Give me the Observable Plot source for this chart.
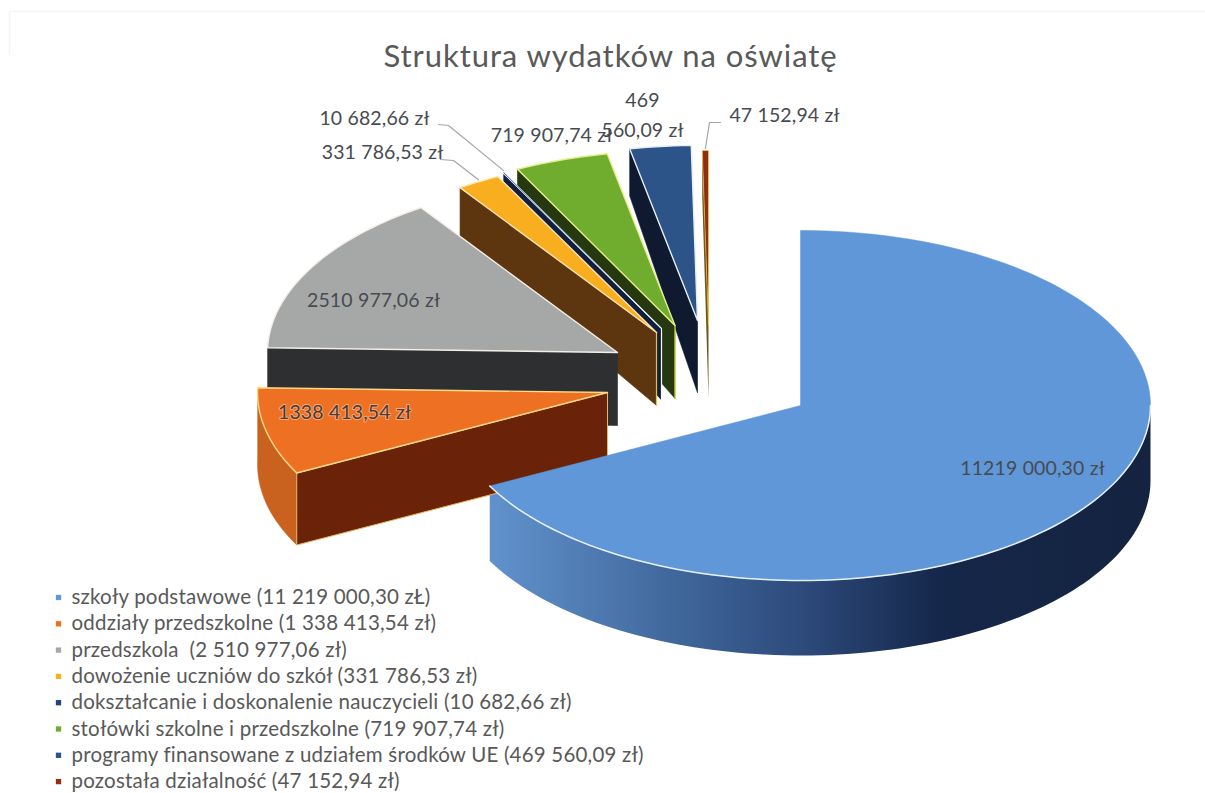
<!DOCTYPE html>
<html lang="pl">
<head>
<meta charset="utf-8">
<script src="https://cdn.jsdelivr.net/npm/d3@7"></script>
<script src="https://cdn.jsdelivr.net/npm/@observablehq/plot@0.6"></script>
<style>
html,body{margin:0;padding:0;background:#fff}
svg{display:block}
</style>
</head>
<body>
<div id="chart"></div>
<script>
// ---- data ----
const title = "Struktura wydatków na oświatę";
const categories = ["szkoły podstawowe","oddziały przedszkolne","przedszkola","dowożenie uczniów do szkół","dokształcanie i doskonalenie nauczycieli","stołówki szkolne i przedszkolne","programy finansowane z udziałem środków UE","pozostała działalność"];
const values = [11219000.30,1338413.54,2510977.06,331786.53,10682.66,719907.74,469560.09,47152.94];
const dataLabels = ["11219 000,30 zł","1338 413,54 zł","2510 977,06 zł","331 786,53 zł","10 682,66 zł","719 907,74 zł","469\n560,09 zł","47 152,94 zł"];
const legendLabels = ["szkoły podstawowe (11 219 000,30 zŁ)","oddziały przedszkolne (1 338 413,54 zł)","przedszkola  (2 510 977,06 zł)","dowożenie uczniów do szkół (331 786,53 zł)","dokształcanie i doskonalenie nauczycieli (10 682,66 zł)","stołówki szkolne i przedszkolne (719 907,74 zł)","programy finansowane z udziałem środków UE (469 560,09 zł)","pozostała działalność (47 152,94 zł)"];

// ---- styles ----
const topColors  = ["#5f97d8","#ee7023","#a6a8a8","#f8ae1f","#21427f","#70ad2e","#2d5488","#8f2e12"];
const wallColors = [null,"#6a2209","#2e2f30","#5d3610","#101f3f","#25380f","#0f1a31","#6b5a20"];
const edgeColors = ["#e8f1fb","#ffd98a","#f3eee6","#ffe3b0","#ffffff","#e6ee8a","#e6eef8","#ffd23a"];
const wallEdgeColors = [null,"#e8b860","#2e2f30","#5d3610","#ffffff","#25380f","#0f1a31",null];
const rightEdgeColors = [null,null,null,"#e8c23a",null,"#e0e040",null,null];
const arcWallOrange = "#c9621f";
const blueRamp = [[0,"#6192cc"],[.3,"#3e6498"],[.5,"#2a4676"],[.68,"#15274a"],[1,"#14233f"]];
const textColor = "#595959", labelColor = "#474b50", leaderColor = "#a6a6a6", scanLine = "#f5f5f5";

// ---- layout ----
const W = 1205, H = 793;
const rx = 350, ry = 175;
const apexes = [[800,405],[607,392],[617,352],[656,332],[661,328],[674.5,325],[697,320],[708,325]];
const depthOfY = d3.scaleLinear([150,325],[47,73]).clamp(true);
const labelAt = [[1032,465],[344,412],[373,297],[382,149],[374,115],[551,132],[642,112],[784,112]];
const leaders = [null,null,null,[[440,159],[453,160]],[[438,124],[448,125]],null,null,[[720,122],[709,122]]];
const legendX = 71, legendY = 597, legendStep = 26.3;
const scanY = 11, scanLeft = 9, scanBottom = 55;
const spacingTitle = "0.93px", spacingLegend = "0.2px", spacingLabels = "0.15px";

// ---- geometry from the values ----
const total = d3.sum(values);
let acc = 0;
const slices = values.map((v,i)=>{const a0=acc; acc+=v/total*360; return {i,a0,a1:acc};});
const pt = (apex,deg)=>{const t=deg*Math.PI/180; return [apex[0]+rx*Math.sin(t), apex[1]-ry*Math.cos(t)];};
const drop = (p)=>[p[0], p[1]+depthOfY(p[1])];
const arc = (apex,a0,a1)=>{const n=Math.max(2,Math.ceil(Math.abs(a1-a0)/1.5)); return d3.range(n+1).map(k=>pt(apex,a0+(a1-a0)*k/n));};
const closed = (ps)=>[...ps,ps[0]];
const poly = (ps,fill,stroke,sw=1)=>Plot.line(closed(ps),{x:d=>d[0],y:d=>d[1],fill,stroke:stroke||fill,strokeWidth:sw});

const blue = slices[0];
const marks = [];
// gradient for the blue outer wall
const wallL = pt(apexes[0],blue.a1)[0], wallR = apexes[0][0]+rx;
marks.push(()=>{
  const defs = d3.create("svg:defs");
  const g = defs.append("linearGradient").attr("id","blueWall").attr("gradientUnits","userSpaceOnUse")
    .attr("x1",wallL).attr("x2",wallR).attr("y1",0).attr("y2",0);
  blueRamp.forEach(([o,c])=>g.append("stop").attr("offset",o).attr("stop-color",c));
  return defs.node();
});
// faint scan edge
marks.push(Plot.ruleY([scanY],{x1:scanLeft,x2:W,stroke:scanLine,strokeWidth:1.5}));
marks.push(Plot.ruleX([scanLeft],{y1:scanY,y2:scanBottom,stroke:scanLine,strokeWidth:1.5}));
// blue wall along the outer arc
const blueArc = arc(apexes[0],90,blue.a1);
marks.push(poly([...blueArc,...blueArc.map(p=>[p[0],p[1]+75]).reverse()],"url(#blueWall)","none",0));

// back-to-front: last slice first
for (const s of [...slices].reverse()){
  const ap = apexes[s.i];
  if (s.i===0) continue;
  if (s.i===1){
    const ar = arc(ap,s.a0,s.a1);
    marks.push(poly([...ar,...ar.map(p=>[p[0],p[1]+72]).reverse()],arcWallOrange,arcWallOrange,0.5));
    const c = pt(ap,s.a0);
    marks.push(poly([c,ap,[ap[0],ap[1]+72],[c[0],c[1]+72]],wallColors[1],wallEdgeColors[1],1));
  } else {
    const c = pt(ap,s.a0);
    marks.push(poly([c,ap,drop(ap),drop(c)],wallColors[s.i],wallEdgeColors[s.i]||"none",s.i===4?1.2:wallEdgeColors[s.i]?0.6:0));
    if (rightEdgeColors[s.i]) marks.push(Plot.line([ap,drop(ap)],{x:d=>d[0],y:d=>d[1],stroke:rightEdgeColors[s.i],strokeWidth:1.2}));
  }
  marks.push(poly([ap,...arc(ap,s.a0,s.a1)],topColors[s.i],edgeColors[s.i],s.i===4||s.i===7?0.6:1.4));
}
// blue top face
marks.push(poly([apexes[0],...arc(apexes[0],blue.a0,blue.a1)],topColors[0],topColors[0],0.5));
marks.push(Plot.line(arc(apexes[0],90,blue.a1),{x:d=>d[0],y:d=>d[1],stroke:edgeColors[0],strokeWidth:1.5}));

// leader lines, ending on the arc of their slice
leaders.forEach((l,i)=>{ if(!l) return;
  const s = slices[i];
  const end = pt(apexes[i],(s.a0+s.a1)/2);
  marks.push(Plot.line([...l,[end[0],end[1]-2]],{x:d=>d[0],y:d=>d[1],stroke:leaderColor,strokeWidth:1.2}));
});

const font = "Lato, Carlito, sans-serif";
// data labels
marks.push(Plot.text(dataLabels.map((t,i)=>({t,i})).filter(d=>d.i!==1),{x:d=>labelAt[d.i][0],y:d=>labelAt[d.i][1],text:d=>d.t,fill:labelColor,fontFamily:font,fontSize:19.5,lineHeight:1.55}));
marks.push(Plot.text([{t:dataLabels[1]}],{x:()=>labelAt[1][0],y:()=>labelAt[1][1],text:d=>d.t,fill:"#4a3a35",stroke:"#f6a878",strokeWidth:2,fontFamily:font,fontSize:19.5}));
// title
marks.push(Plot.text([title],{x:()=>610,y:()=>57,text:d=>d,fill:textColor,fontFamily:font,fontSize:31}));
// legend
marks.push(Plot.dot(categories,{x:()=>legendX-13,y:(d,i)=>legendY+i*legendStep,symbol:"square",r:3,fill:(d,i)=>topColors[i],stroke:"none"}));
marks.push(Plot.text(legendLabels,{x:()=>legendX,y:(d,i)=>legendY+i*legendStep,text:d=>d,textAnchor:"start",fill:textColor,fontFamily:font,fontSize:20.5}));

const chart = Plot.plot({
  width:W,height:H,margin:0,
  x:{type:"linear",domain:[0,W],range:[0,W],axis:null},
  y:{type:"linear",domain:[0,H],range:[0,H],axis:null},
  style:{background:"#fff"},
  marks
});
// tracking of the text, matched by its content
chart.querySelectorAll("text").forEach(t=>{
  const s = t.textContent;
  t.style.letterSpacing = s===title ? spacingTitle : legendLabels.includes(s) ? spacingLegend : spacingLabels;
});
document.getElementById("chart").append(chart);
</script>
</body>
</html>
